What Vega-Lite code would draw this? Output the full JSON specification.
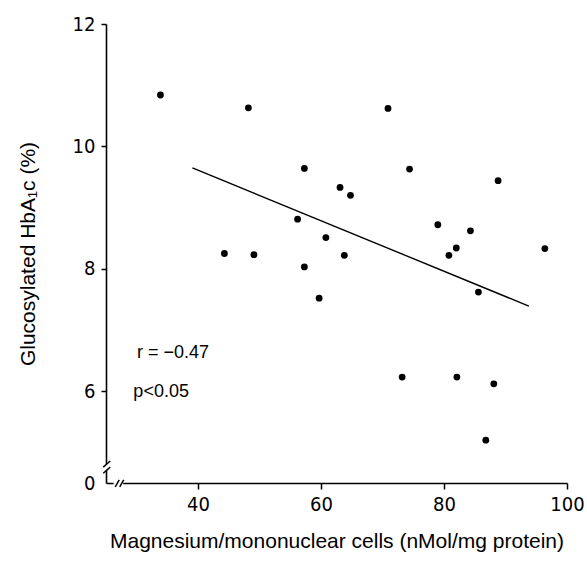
{
  "$schema": "https://vega.github.io/schema/vega-lite/v6.json",
  "width": 461,
  "height": 459,
  "autosize": "none",
  "padding": {"left": 106, "top": 24, "right": 20, "bottom": 94},
  "background": "white",
  "config": {
    "view": {"stroke": null},
    "axis": {
      "grid": false,
      "domainColor": "black",
      "tickColor": "black",
      "labelColor": "black",
      "titleColor": "black",
      "domainWidth": 1.6,
      "tickWidth": 1.5,
      "labelFont": "DejaVu Sans Condensed",
      "labelFontSize": 20,
      "titleFont": "Liberation Sans",
      "titleFontSize": 21,
      "titleFontWeight": "normal"
    }
  },
  "datasets": {
    "points": [
      {"x": 33.9, "y": 10.84},
      {"x": 48.2, "y": 10.63},
      {"x": 57.3, "y": 9.64},
      {"x": 63.1, "y": 9.33},
      {"x": 64.8, "y": 9.2},
      {"x": 56.2, "y": 8.81},
      {"x": 60.8, "y": 8.51},
      {"x": 44.3, "y": 8.25},
      {"x": 49.1, "y": 8.23},
      {"x": 63.8, "y": 8.22},
      {"x": 57.3, "y": 8.03},
      {"x": 59.7, "y": 7.52},
      {"x": 70.9, "y": 10.62},
      {"x": 74.4, "y": 9.63},
      {"x": 88.8, "y": 9.44},
      {"x": 79.0, "y": 8.72},
      {"x": 84.3, "y": 8.62},
      {"x": 82.0, "y": 8.34},
      {"x": 80.8, "y": 8.22},
      {"x": 96.4, "y": 8.33},
      {"x": 85.6, "y": 7.62},
      {"x": 73.2, "y": 6.23},
      {"x": 82.1, "y": 6.23},
      {"x": 88.1, "y": 6.12},
      {"x": 86.8, "y": 5.2}
    ],
    "fit": [
      {"x": 39.1, "y": 9.65},
      {"x": 93.8, "y": 7.39}
    ],
    "gaps": [
      {"x": 25.05, "y": 4.71, "x2": 25.05, "y2": 4.81},
      {"x": 26.3, "y": 4.5, "x2": 27.85, "y2": 4.5}
    ],
    "breaks": [
      {"x": 24.6, "y": 4.76, "x2": 25.74, "y2": 4.86},
      {"x": 24.6, "y": 4.66, "x2": 25.74, "y2": 4.76},
      {"x": 26.55, "y": 4.435, "x2": 27.2, "y2": 4.55},
      {"x": 27.28, "y": 4.435, "x2": 27.93, "y2": 4.55}
    ],
    "notes": [
      {"x": 30.1, "y": 6.62, "label": "r = −0.47"},
      {"x": 29.5, "y": 5.99, "label": "p<0.05"}
    ]
  },
  "encoding": {
    "x": {
      "field": "x",
      "type": "quantitative",
      "scale": {"domain": [25.05, 100], "nice": false, "zero": false},
      "axis": {
        "values": [40, 60, 80, 100],
        "title": "Magnesium/mononuclear cells (nMol/mg protein)",
        "tickSize": 6,
        "labelPadding": 5,
        "labelFlush": false,
        "labelBound": false,
        "titlePadding": 16
      }
    },
    "y": {
      "field": "y",
      "type": "quantitative",
      "scale": {"domain": [4.5, 12], "nice": false, "zero": false},
      "axis": {
        "values": [4.5, 6, 8, 10, 12],
        "labelExpr": "datum.value < 5 ? '0' : datum.label",
        "tickOpacity": {"condition": {"test": "datum.value < 5", "value": 0}, "value": 1},
        "title": "Glucosylated HbA₁c (%)",
        "tickSize": 5,
        "labelPadding": 6,
        "labelFlush": false,
        "labelBound": false,
        "titlePadding": 34
      }
    }
  },
  "layer": [
    {
      "data": {"name": "gaps"},
      "mark": {"type": "rule", "color": "white", "strokeWidth": 5},
      "encoding": {"x2": {"field": "x2"}, "y2": {"field": "y2"}}
    },
    {
      "data": {"name": "breaks"},
      "mark": {"type": "rule", "color": "black", "strokeWidth": 1.5},
      "encoding": {"x2": {"field": "x2"}, "y2": {"field": "y2"}}
    },
    {
      "data": {"name": "fit"},
      "mark": {"type": "line", "color": "black", "strokeWidth": 1.4},
      "encoding": {}
    },
    {
      "data": {"name": "points"},
      "mark": {"type": "circle", "size": 46, "color": "black", "opacity": 1},
      "encoding": {}
    },
    {
      "data": {"name": "notes"},
      "mark": {"type": "text", "align": "left", "baseline": "middle", "font": "Liberation Sans", "fontSize": 18, "color": "black"},
      "encoding": {"text": {"field": "label"}}
    }
  ]
}
